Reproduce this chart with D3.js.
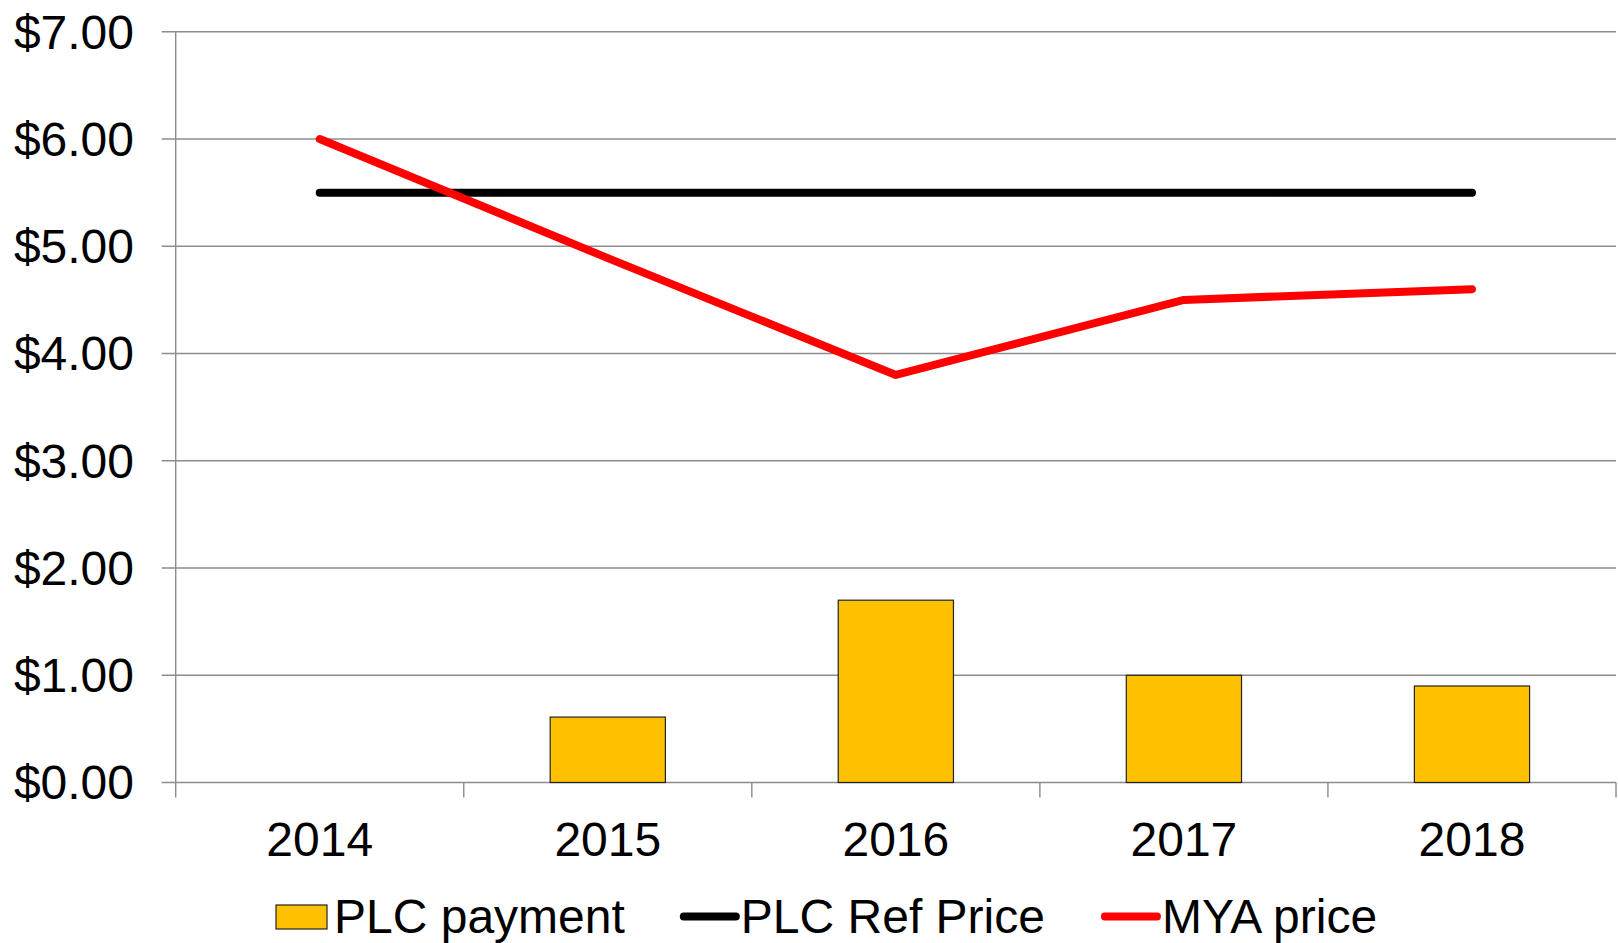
<!DOCTYPE html>
<html>
  <head>
    <meta charset="utf-8">
    <title>PLC payment chart</title>
    <script src="https://d3js.org/d3.v7.min.js"></script>
    <style>
      body { margin: 0; background: #fff; }
      text { font-family: "Liberation Sans", Arial, sans-serif; fill: #000; }
    </style>
  </head>
  <body>
    <svg id="chart"></svg>
    <script>
      // data
      var years = ["2014", "2015", "2016", "2017", "2018"];
      var plcPayment = [0, 0.61, 1.70, 1.00, 0.90];
      var plcRefPrice = [5.50, 5.50, 5.50, 5.50, 5.50];
      var myaPrice = [6.00, 4.89, 3.80, 4.50, 4.60];
      var yTicks = [0, 1, 2, 3, 4, 5, 6, 7];
      var legendNames = ["PLC payment", "PLC Ref Price", "MYA price"];

      var width = 1618, height = 943;
      var plotLeft = 175.7, plotRight = 1616, plotTop = 31.8, plotBottom = 782.5;
      var fontSize = 48;

      var svg = d3.select("#chart").attr("width", width).attr("height", height);

      var x = d3.scaleBand().domain(years).range([plotLeft, plotRight])
                .paddingInner(0.6).paddingOuter(0.3);
      var y = d3.scaleLinear().domain([0, 7]).range([plotBottom, plotTop]);
      var step = x.step();
      var cx = function(i) { return x(years[i]) + x.bandwidth() / 2; };

      // horizontal gridlines (with the little outward tick on the left)
      svg.append("g").selectAll("line").data(yTicks).enter().append("line")
        .attr("x1", plotLeft - 14).attr("x2", plotRight)
        .attr("y1", function(d) { return y(d); })
        .attr("y2", function(d) { return y(d); })
        .attr("stroke", "#8c8c8c").attr("stroke-width", 1.4);

      // y axis labels
      svg.append("g").selectAll("text").data(yTicks).enter().append("text")
        .attr("x", 134).attr("y", function(d) { return y(d); })
        .attr("dy", "0.35em")
        .attr("text-anchor", "end")
        .style("font-size", fontSize + "px")
        .text(function(d) { return "$" + d3.format(".2f")(d); });

      // vertical axis line
      svg.append("line")
        .attr("x1", plotLeft).attr("x2", plotLeft).attr("y1", plotTop).attr("y2", plotBottom + 15)
        .attr("stroke", "#8c8c8c").attr("stroke-width", 1.4);

      // x ticks at band boundaries
      var bounds = years.map(function(d, i) { return plotLeft + step * (i + 1); });
      svg.append("g").selectAll("line").data(bounds).enter().append("line")
        .attr("x1", function(d) { return d; }).attr("x2", function(d) { return d; })
        .attr("y1", plotBottom).attr("y2", plotBottom + 15)
        .attr("stroke", "#8c8c8c").attr("stroke-width", 1.4);

      // x labels
      svg.append("g").selectAll("text").data(years).enter().append("text")
        .attr("x", function(d, i) { return cx(i); })
        .attr("y", 856)
        .attr("text-anchor", "middle")
        .style("font-size", fontSize + "px")
        .text(function(d) { return d; });

      // bars
      svg.append("g").selectAll("rect").data(plcPayment).enter().append("rect")
        .attr("x", function(d, i) { return x(years[i]); })
        .attr("y", function(d) { return y(d); })
        .attr("width", x.bandwidth())
        .attr("height", function(d) { return y(0) - y(d); })
        .attr("fill", "#FFC000")
        .attr("stroke", function(d) { return d > 0 ? "#222" : "none"; })
        .attr("stroke-width", 1.2);

      var line = d3.line()
        .x(function(d, i) { return cx(i); })
        .y(function(d) { return y(d); });

      svg.append("path").datum(plcRefPrice)
        .attr("d", line).attr("fill", "none")
        .attr("stroke", "#000").attr("stroke-width", 8)
        .attr("stroke-linecap", "round");

      svg.append("path").datum(myaPrice)
        .attr("d", line).attr("fill", "none")
        .attr("stroke", "#FF0000").attr("stroke-width", 8)
        .attr("stroke-linecap", "round").attr("stroke-linejoin", "round");

      // legend
      var legY = 916.5;
      var lg = svg.append("g");
      var lx = 276;
      // item 1: swatch
      lg.append("rect").attr("x", lx).attr("y", legY - 11.5).attr("width", 51).attr("height", 24)
        .attr("fill", "#FFC000").attr("stroke", "#222").attr("stroke-width", 1.2);
      var t1 = lg.append("text").attr("x", lx + 58).attr("y", legY).attr("dy", "0.35em")
        .style("font-size", fontSize + "px").text(legendNames[0]);
      lx = lx + 58 + t1.node().getComputedTextLength() + 56;
      // item 2: black line
      lg.append("line").attr("x1", lx + 3).attr("x2", lx + 55).attr("y1", legY).attr("y2", legY)
        .attr("stroke", "#000").attr("stroke-width", 8).attr("stroke-linecap", "round");
      var t2 = lg.append("text").attr("x", lx + 60).attr("y", legY).attr("dy", "0.35em")
        .style("font-size", fontSize + "px").text(legendNames[1]);
      lx = lx + 60 + t2.node().getComputedTextLength() + 57;
      // item 3: red line
      lg.append("line").attr("x1", lx + 3).attr("x2", lx + 55).attr("y1", legY).attr("y2", legY)
        .attr("stroke", "#FF0000").attr("stroke-width", 8).attr("stroke-linecap", "round");
      lg.append("text").attr("x", lx + 60).attr("y", legY).attr("dy", "0.35em")
        .style("font-size", fontSize + "px").text(legendNames[2]);
    </script>
  </body>
</html>
